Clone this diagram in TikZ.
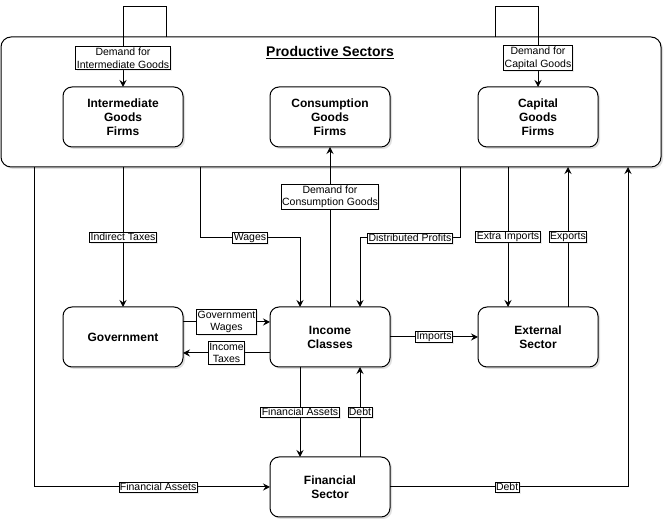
\documentclass[tikz,border=0pt]{standalone}
\usepackage{fontspec}
\setmainfont{Liberation Sans}
\usetikzlibrary{positioning,arrows.meta,shadows}

\begin{document}
\begin{tikzpicture}[
    x=1pt, y=1pt,
    node distance=207pt,
    sector/.style={rectangle, draw, fill=white, rounded corners=10pt, minimum width=660pt, minimum height=130pt, outer sep=0pt, line width=1pt, drop shadow={opacity=0.25, shadow xshift=2pt, shadow yshift=-2pt}},
    firm/.style={rectangle, draw, fill=white, rounded corners=9pt, minimum width=120pt, minimum height=60pt, text width=110pt, align=center, outer sep=0pt, line width=1pt, font=\fontsize{12}{14}\selectfont\bfseries, drop shadow={opacity=0.25, shadow xshift=2pt, shadow yshift=-2pt}},
    flow/.style={rectangle, draw, fill=white, inner xsep=1pt, inner ysep=1.2pt, align=center, line width=0.8pt, font=\fontsize{10.5}{12.5}\selectfont, drop shadow={opacity=0.15, shadow xshift=1.5pt, shadow yshift=-1.5pt}},
    arrow/.style={line width=1pt, ->, >={Stealth[length=7pt, width=7pt, inset=2.5pt]}}
]
    \useasboundingbox (0,0) rectangle (672,529);

    % Productive sectors
    \node [sector] (prod) at (331,427) {};
    \node [font=\fontsize{14}{16}\selectfont\bfseries] (title) at (330,476) {\underline{Productive Sectors}};
    \node [firm] (interm) at (123,412) {Intermediate\\Goods\\Firms};
    \node [firm, right of=interm] (consum) {Consumption\\Goods\\Firms};
    \node [firm, right of=consum, xshift=1pt] (capital) {Capital\\Goods\\Firms};

    % Other sectors
    \node [firm, below of=interm, yshift=-13pt] (gov) {Government};
    \node [firm, right of=gov] (income) {Income\\Classes};
    \node [firm, right of=income, xshift=1pt] (external) {External\\Sector};
    \node [firm, below of=income, yshift=57pt] (fin) {Financial\\Sector};

    % Loops on the productive sectors
    \draw [arrow] ([xshift=-165pt]prod.north) -- ++(0,30) -| node [flow, pos=0.82] {Demand for\\Intermediate Goods} (interm.north);
    \draw [arrow] ([xshift=164pt]prod.north) -- ++(0,30) -| node [flow, pos=0.82] {Demand for\\Capital Goods} (capital.north);

    % Flows out of the productive sectors
    \draw [arrow] (prod.south -| gov.north) -- node [flow] {Indirect Taxes} (gov.north);
    \draw [arrow] ([xshift=-131pt]prod.south) -- ++(0,-71) -| node [flow, pos=0.25] {Wages} ([xshift=-30pt]income.north);
    \draw [arrow] ([xshift=129pt]prod.south) -- ++(0,-71) -| node [flow, pos=0.25] {Distributed Profits} ([xshift=30pt]income.north);
    \draw [arrow] (income.north) -- node [flow, pos=0.69] {Demand for\\Consumption Goods} (consum.south);
    \coordinate (exin) at ([xshift=-30pt]external.north);
    \coordinate (exout) at ([xshift=30pt]external.north);
    \draw [arrow] (exin |- prod.south) -- node [flow] {Extra Imports} (exin);
    \draw [arrow] (exout) -- node [flow] {Exports} (exout |- prod.south);

    % Government and income classes
    \draw [arrow] ([yshift=15pt]gov.east) -- node [flow] {Government\\Wages} ([yshift=15pt]income.west);
    \draw [arrow] ([yshift=-16pt]income.west) -- node [flow] {Income\\Taxes} ([yshift=-16pt]gov.east);
    \draw [arrow] (income.east) -- node [flow] {Imports} (external.west);

    % Financial sector
    \draw [arrow] ([xshift=-30pt]income.south) -- node [flow] {Financial Assets} ([xshift=-30pt]fin.north);
    \draw [arrow] ([xshift=30pt]fin.north) -- node [flow] {Debt} ([xshift=30pt]income.south);
    \draw [arrow] ([xshift=-297pt]prod.south) |- node [flow, pos=0.763] {Financial Assets} (fin.west);
    \draw [arrow] (fin.east) -| node [flow, pos=0.246] {Debt} ([xshift=297pt]prod.south);
\end{tikzpicture}
\end{document}
